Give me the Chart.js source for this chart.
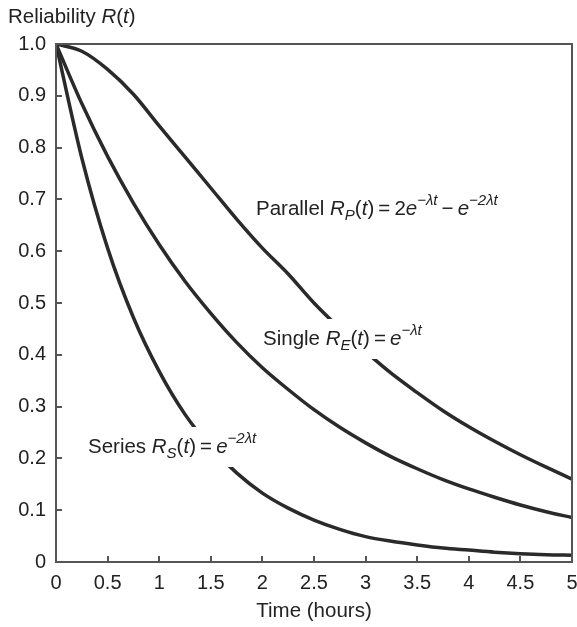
<!DOCTYPE html>
<html>
<head>
<meta charset="utf-8">
<script src="https://cdn.jsdelivr.net/npm/chart.js@4"></script>
<style>
  html, body { margin: 0; padding: 0; background: #fff; }
  #wrap { width: 577px; height: 627px; }
</style>
</head>
<body>
<div id="wrap"><canvas id="chart" width="577" height="627"></canvas></div>
<script>
// Time axis (hours) and reliability readings for each configuration
const times = [0, 0.25, 0.5, 0.75, 1, 1.25, 1.5, 1.75, 2, 2.25, 2.5, 2.75, 3, 3.25, 3.5, 3.75, 4, 4.25, 4.5, 4.75, 5];
const parallel = [1.0, 0.986, 0.951, 0.903, 0.842, 0.782, 0.722, 0.662, 0.606, 0.556, 0.5, 0.451, 0.406, 0.364, 0.327, 0.292, 0.261, 0.233, 0.207, 0.183, 0.16];
const single = [1.0, 0.885, 0.783, 0.693, 0.613, 0.542, 0.48, 0.424, 0.375, 0.333, 0.294, 0.26, 0.23, 0.203, 0.18, 0.159, 0.141, 0.125, 0.11, 0.097, 0.086];
const series = [1.0, 0.78, 0.606, 0.472, 0.368, 0.285, 0.222, 0.172, 0.133, 0.104, 0.081, 0.063, 0.049, 0.04, 0.033, 0.027, 0.023, 0.019, 0.016, 0.014, 0.013];

const xTickLabels = ['0', '0.5', '1', '1.5', '2', '2.5', '3', '3.5', '4', '4.5', '5'];
const yTickLabels = ['0', '0.1', '0.2', '0.3', '0.4', '0.5', '0.6', '0.7', '0.8', '0.9', '1.0'];

const FONT = "'Liberation Sans', Arial, Helvetica, sans-serif";
const FS = 20.5;      // annotation / title size
const TICK_FS = 20;   // tick label size
const INK = '#222';
const AXIS = '#555';
const CURVE = '#2a2a2a';

// Curve annotations: [text, style] runs; style n=normal, i=italic, sub, sup
const annotations = [
  { x: 256, y: 209, runs: [['Parallel ', 'n'], ['R', 'i'], ['P', 'sub'], ['(', 'n'], ['t', 'i'], [')', 'n'], ['\u2009=\u20092', 'n'], ['e', 'i'], ['\u2212\u03bbt', 'sup'], ['\u2009\u2212\u2009', 'n'], ['e', 'i'], ['\u22122\u03bbt', 'sup']] },
  { x: 263, y: 339, runs: [['Single ', 'n'], ['R', 'i'], ['E', 'sub'], ['(', 'n'], ['t', 'i'], [')', 'n'], ['\u2009=\u2009', 'n'], ['e', 'i'], ['\u2212\u03bbt', 'sup']] },
  { x: 88, y: 447, runs: [['Series ', 'n'], ['R', 'i'], ['S', 'sub'], ['(', 'n'], ['t', 'i'], [')', 'n'], ['\u2009=\u2009', 'n'], ['e', 'i'], ['\u22122\u03bbt', 'sup']] }
];

function toPoints(values) {
  return times.map((t, i) => ({ x: t, y: values[i] }));
}

function runFont(style) {
  if (style === 'n') return FS + 'px ' + FONT;
  if (style === 'i') return 'italic ' + FS + 'px ' + FONT;
  return 'italic ' + Math.round(FS * 0.72) + 'px ' + FONT;
}

// draws a line of mixed text, returns its width
function drawRich(ctx, x, y, runs, measureOnly) {
  let cx = x;
  ctx.textBaseline = 'middle';
  ctx.textAlign = 'left';
  runs.forEach(([txt, style]) => {
    ctx.font = runFont(style);
    let dy = 0;
    if (style === 'sub') dy = FS * 0.32;
    if (style === 'sup') dy = -FS * 0.42;
    if (!measureOnly) ctx.fillText(txt, cx, y + dy);
    cx += ctx.measureText(txt).width;
  });
  return cx - x;
}

const decorations = {
  id: 'decorations',
  afterDatasetsDraw(chart) {
    const ctx = chart.ctx;
    const area = chart.chartArea;
    ctx.save();
    // label boxes knock out the curves behind them
    annotations.forEach(a => {
      const w = drawRich(ctx, a.x, a.y, a.runs, true);
      ctx.fillStyle = '#fff';
      ctx.fillRect(a.x - 4, a.y - 20, w + 8, 40);
      ctx.fillStyle = INK;
      drawRich(ctx, a.x, a.y, a.runs, false);
    });

    // frame
    ctx.strokeStyle = AXIS;
    ctx.lineWidth = 2;
    ctx.strokeRect(area.left, area.top, area.right - area.left, area.bottom - area.top);

    // inward ticks
    const xs = chart.scales.x, ys = chart.scales.y;
    ctx.beginPath();
    xs.ticks.forEach(t => {
      const px = Math.round(xs.getPixelForValue(t.value));
      ctx.moveTo(px, area.bottom);
      ctx.lineTo(px, area.bottom - 6);
    });
    ys.ticks.forEach(t => {
      const py = Math.round(ys.getPixelForValue(t.value));
      ctx.moveTo(area.left, py);
      ctx.lineTo(area.left + 6, py);
    });
    ctx.stroke();

    // axis titles
    ctx.fillStyle = INK;
    drawRich(ctx, 8, 17, [['Reliability ', 'n'], ['R', 'i'], ['(', 'n'], ['t', 'i'], [')', 'n']], false);
    ctx.font = FS + 'px ' + FONT;
    ctx.textAlign = 'center';
    ctx.textBaseline = 'middle';
    ctx.fillText('Time (hours)', (area.left + area.right) / 2, 611);
    ctx.restore();
  }
};

const lineStyle = {
  borderColor: CURVE,
  borderWidth: 3.5,
  pointRadius: 0,
  fill: false,
  cubicInterpolationMode: 'monotone'
};

new Chart(document.getElementById('chart'), {
  type: 'line',
  data: {
    datasets: [
      Object.assign({ label: 'Parallel', data: toPoints(parallel) }, lineStyle),
      Object.assign({ label: 'Single', data: toPoints(single) }, lineStyle),
      Object.assign({ label: 'Series', data: toPoints(series) }, lineStyle)
    ]
  },
  options: {
    responsive: false,
    animation: false,
    layout: { padding: { top: 44, right: 5, left: 0, bottom: 0 } },
    plugins: {
      legend: { display: false },
      tooltip: { enabled: false }
    },
    scales: {
      x: {
        type: 'linear',
        min: 0,
        max: 5,
        afterFit(scale) {
          scale.height = 65;
          // let the "5" label hang past the plot edge
          scale.paddingLeft = 0;
          scale.paddingRight = 0;
        },
        grid: { drawOnChartArea: false, drawTicks: false },
        border: { color: AXIS, width: 2 },
        ticks: {
          stepSize: 0.5,
          padding: 9,
          color: INK,
          font: { family: FONT, size: TICK_FS },
          maxRotation: 0,
          callback: (v, i) => xTickLabels[i]
        }
      },
      y: {
        min: 0,
        max: 1,
        afterFit(scale) { scale.width = 56; },
        grid: { drawOnChartArea: false, drawTicks: false },
        border: { color: AXIS, width: 2 },
        ticks: {
          stepSize: 0.1,
          padding: 10,
          color: INK,
          font: { family: FONT, size: TICK_FS },
          callback: (v, i) => yTickLabels[i]
        }
      }
    }
  },
  plugins: [decorations]
});
</script>
</body>
</html>
